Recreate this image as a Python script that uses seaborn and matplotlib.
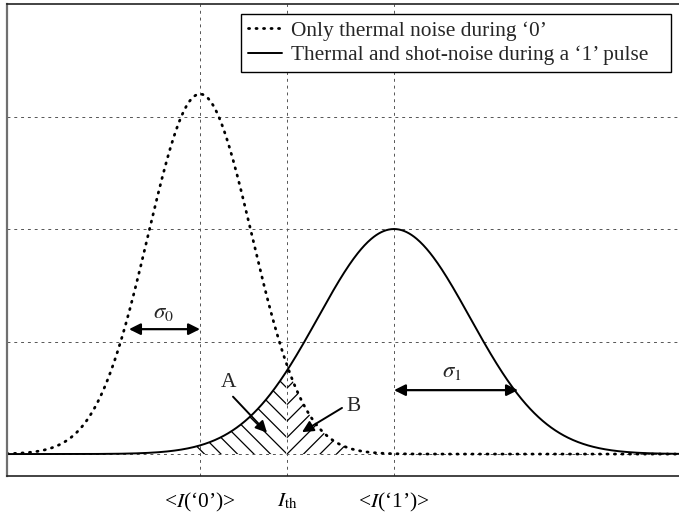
import matplotlib
matplotlib.use("Agg")
import matplotlib.pyplot as plt
import seaborn as sns
import numpy as np
import pandas as pd
from matplotlib.collections import LineCollection

# gaussian parameters (x in arbitrary current units)
means = [2.00, 3.94]          # <I('0')>, <I('1')>
sigmas = [0.52, 0.76]
peaks = [3.2, 2.0]
i_th = 2.87
series_names = ["Only thermal noise during \u20180\u2019",
                "Thermal and shot-noise during a \u20181\u2019 pulse"]

tick_pos = [means[0], i_th, means[1]]
tick_labels = ["<$I$(\u20180\u2019)>", "$I_{\\mathrm{th}}$", "<$I$(\u20181\u2019)>"]
ytick_pos = [0, 1, 2, 3]

hatch_a = [1.90, i_th]   # x-range of region A (under the '1' curve)
hatch_b = [i_th, 3.50]   # x-range of region B (under the '0' curve)
hatch_step = 0.165       # horizontal spacing of hatch lines

sns.set_theme(style="white")
plt.rcParams["font.family"] = ["Liberation Serif", "DejaVu Serif"]
plt.rcParams["mathtext.fontset"] = "stix"

FS = 15.4
XLIM = (0.07, 6.79)
YLIM = (-0.195, 4.0)

x = np.linspace(XLIM[0], XLIM[1], 800)
curves = []
for name, m, s, p in zip(series_names, means, sigmas, peaks):
    curves.append(pd.DataFrame({"x": x, "y": p * np.exp(-(x - m) ** 2 / (2 * s ** 2)), "name": name}))
df = pd.concat(curves)

fig = plt.figure(figsize=(6.79, 5.16), dpi=100)
ax = fig.add_axes([7 / 679, 40 / 516, 672 / 679, 472 / 516])
ax.set_xlim(*XLIM)
ax.set_ylim(*YLIM)

d0 = df[df["name"] == series_names[0]]
d1 = df[df["name"] == series_names[1]]
sns.lineplot(data=d0, x="x", y="y", ax=ax, color="black", lw=2.0,
             dashes=False, label=series_names[0])
ax.lines[-1].set_linestyle((0, (0.4, 2.3)))
ax.lines[-1].set_dash_capstyle("round")
sns.lineplot(data=d1, x="x", y="y", ax=ax, color="black", lw=1.4, label=series_names[1])

# hatched error areas: 45 degree lines clipped to the areas
k = (ax.bbox.width / (XLIM[1] - XLIM[0])) / (ax.bbox.height / (YLIM[1] - YLIM[0]))


def hatch(xr, ycurve, sign):
    m = (x >= xr[0]) & (x <= xr[1])
    poly = ax.fill_between(x[m], 0, ycurve[m], facecolor="none", lw=0)
    segs = []
    for n in range(-30, 40):
        c = i_th - sign * n * hatch_step
        segs.append([(c - sign * 5, k * 5), (c + sign * 0.5, -k * 0.5)])
    lc = LineCollection(segs, colors="black", linewidths=0.9)
    ax.add_collection(lc)
    lc.set_clip_path(poly.get_paths()[0], poly.get_transform())


hatch(hatch_a, d1["y"].values, 1)    # '\' lines
hatch(hatch_b, d0["y"].values, -1)   # '/' lines

ax.set_xlim(*XLIM)
ax.set_ylim(*YLIM)
ax.set_xticks(tick_pos)
ax.set_xticklabels(tick_labels, fontsize=FS)
ax.set_yticks(ytick_pos)
ax.set_yticklabels([])
ax.tick_params(axis="x", direction="in", length=4, width=0.8, pad=11, colors="black")
ax.tick_params(axis="y", direction="in", length=0)
ax.grid(True, color="#555555", linestyle=(0, (3, 4)), lw=0.7)
ax.set_xlabel("")
ax.set_ylabel("")

ax.spines["right"].set_visible(False)
ax.spines["left"].set_color("#707070")
ax.spines["left"].set_linewidth(1.6)
for sp in ["top", "bottom"]:
    ax.spines[sp].set_color("#222222")
    ax.spines[sp].set_linewidth(1.2)

arrow = dict(arrowstyle="<|-|>", color="black", lw=1.6, mutation_scale=17, shrinkA=0, shrinkB=0)
ax.annotate("", xy=(1.29, 1.11), xytext=(means[0], 1.11), arrowprops=arrow)
ax.text(1.63, 1.26, "$\\sigma_0$", fontsize=FS + 1, ha="center", va="center")
ax.annotate("", xy=(means[1], 0.568), xytext=(5.18, 0.568), arrowprops=arrow)
ax.text(4.52, 0.73, "$\\sigma_1$", fontsize=FS + 1, ha="center", va="center")

one = dict(arrowstyle="-|>", color="black", lw=1.4, mutation_scale=17, shrinkA=0, shrinkB=0)
ax.annotate("", xy=(2.67, 0.19), xytext=(2.33, 0.51), arrowprops=one)
ax.text(2.28, 0.64, "A", fontsize=FS, ha="center", va="center")
ax.annotate("", xy=(3.02, 0.195), xytext=(3.42, 0.41), arrowprops=one)
ax.text(3.53, 0.42, "B", fontsize=FS, ha="center", va="center")

leg = ax.legend(loc="upper left", bbox_to_anchor=(241 / 679, 1 - 71 / 516, 430 / 679, 57 / 516),
                bbox_transform=fig.transFigure, mode="expand",
                borderaxespad=0, fontsize=FS, frameon=True, fancybox=False, framealpha=1,
                edgecolor="black", handlelength=1.6, handletextpad=0.4, labelspacing=0.22,
                borderpad=0.32)
leg.get_frame().set_linewidth(1.0)

fig.savefig("out.png", dpi=100)
